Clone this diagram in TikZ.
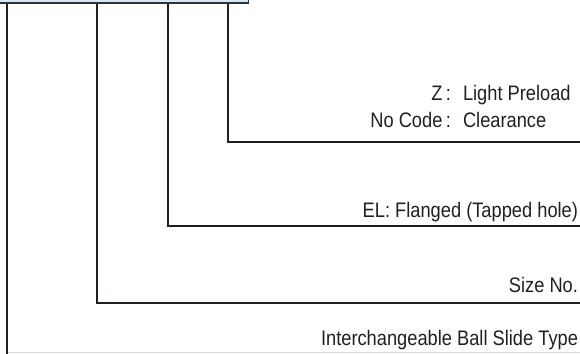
\documentclass[tikz,border=0pt]{standalone}
\usepackage{fontspec}
\setmainfont{Liberation Sans}[FakeStretch=0.87]
\definecolor{ink}{HTML}{231F20}
\definecolor{boxfill}{HTML}{D6E6F4}
\definecolor{boxline}{HTML}{333333}
\definecolor{rule}{HTML}{D8D8D8}
\begin{document}
\begin{tikzpicture}[x=1pt,y=-1pt,
  conn/.style={draw=ink,line width=2pt},
  lbl/.style={inner sep=0pt,outer sep=0pt,text=ink,font=\fontsize{21}{27}\selectfont},
  lblr/.style={lbl,anchor=base east},
  lbll/.style={lbl,anchor=base west}]
\useasboundingbox (0,0) rectangle (580,353);
\clip (0,0) rectangle (580,353);
% code box (cut at the top of the picture)
\node[draw=boxline,fill=boxfill,line width=1.5pt,inner sep=0pt,
      minimum width=270pt,minimum height=30pt,anchor=south east] (box) at (249,4) {};
% tap points on the box
\coordinate (t1) at (228,4);
\coordinate (t2) at (168,4);
\coordinate (t3) at (97,4);
\coordinate (t4) at (6.5,4);
% free ends at the right edge / bottom
\coordinate (e1) at (581,141.7);
\coordinate (e2) at (581,226.3);
\coordinate (e3) at (581,303);
\coordinate (e4) at (6.5,354);
\coordinate (g1) at (8,352);
\coordinate (g2) at (581,352);
% light rule at the bottom
\draw[rule,line width=1pt] (g1) -- (g2);
% connectors
\draw[conn] (t1) |- (e1);
\draw[conn] (t2) |- (e2);
\draw[conn] (t3) |- (e3);
\draw[conn] (t4) -- (e4);
% labels
\node[lblr] (k1) at (442.5,100) {Z};
\node[lbl,anchor=base] (c1) at (448.5,100) {:};
\node[lbll] (v1) at (463,100) {Light Preload};
\node[lblr] (k2) at (442.5,127) {No Code};
\node[lbl,anchor=base] (c2) at (448.5,127) {:};
\node[lbll] (v2) at (463,127) {Clearance};
\node[lblr] (l2) at (578,217) {EL: Flanged (Tapped hole)};
\node[lblr] (l3) at (578,292.7) {Size No.};
\node[lblr] (l4) at (578,345) {Interchangeable Ball Slide Type};
\end{tikzpicture}
\end{document}
